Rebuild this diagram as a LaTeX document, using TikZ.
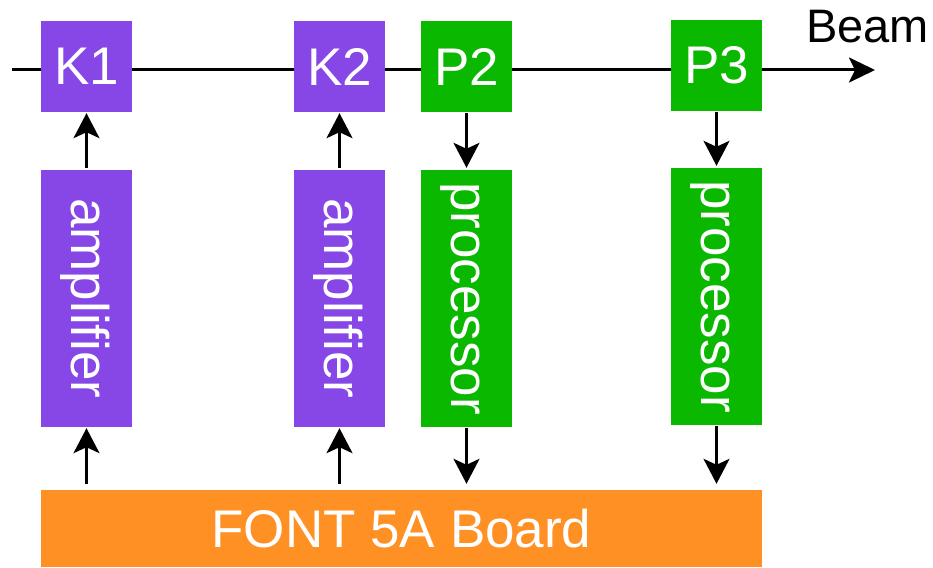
\documentclass[tikz,border=0pt]{standalone}
\usepackage{fontspec}
\setmainfont{Liberation Sans}
\usepackage{graphicx}
\usetikzlibrary{arrows.meta}

\definecolor{kickerpurple}{HTML}{8747E6}
\definecolor{bpmgreen}{HTML}{0AB800}
\definecolor{boardorange}{HTML}{FF9124}

% vertical label with a fixed baseline position inside its box
\newcommand{\vlabel}[1]{\rotatebox{-90}{\rule[-11pt]{0pt}{52pt}#1}}

\tikzset{
  block/.style={fill=#1, draw=none, inner sep=0pt, text=white,
    font=\fontsize{53}{60}\selectfont},
  squarebox/.style={block=#1, minimum width=91pt, minimum height=91pt},
  tallbox/.style={block=#1, minimum width=91pt, minimum height=257pt},
  sig/.style={line width=2.2pt, -{Stealth[length=25pt, width=26pt, inset=6pt]}},
  beamline/.style={line width=3pt, -{Stealth[length=26pt, width=25pt, inset=6pt]}},
}

\begin{document}
\begin{tikzpicture}[x=1pt, y=-1pt]
  \useasboundingbox (0,0) rectangle (933,567);

  % beam line, drawn first so the pickups sit on top of it
  \coordinate (beamstart) at (12,70);
  \coordinate (beamend) at (875,70);
  \draw[beamline] (beamstart) -- (beamend);
  \node[anchor=base west, inner sep=0pt, font=\fontsize{47}{54}\selectfont]
    (beamlabel) at (806,43) {Beam};

  % kickers and BPMs on the beam line
  \node[squarebox=kickerpurple] (k1) at (86.5,66.5) {K1};
  \node[squarebox=kickerpurple] (k2) at (339.5,66.5) {K2};
  \node[squarebox=bpmgreen] (p2) at (466.5,66.5) {P2};
  \node[squarebox=bpmgreen] (p3) at (716.5,65.5) {P3};

  % amplifiers and processors
  \node[tallbox=kickerpurple] (amp1) at (86.5,298.5) {\vlabel{amplifier}};
  \node[tallbox=kickerpurple] (amp2) at (339.5,298.5) {\vlabel{amplifier}};
  \node[tallbox=bpmgreen] (proc2) at (466.5,298.5) {\vlabel{processor}};
  \node[tallbox=bpmgreen] (proc3) at (716.5,296.5) {\vlabel{processor}};

  % feedback board
  \node[block=boardorange, minimum width=721pt, minimum height=77pt]
    (board) at (401.5,528.5) {FONT 5A Board};

  % signal flow
  \draw[sig, shorten <=2pt, shorten >=1pt] (amp1.north) -- (k1.south);
  \draw[sig, shorten <=2pt, shorten >=1pt] (amp2.north) -- (k2.south);
  \draw[sig, shorten <=1pt, shorten >=2pt] (p2.south) -- (proc2.north);
  \draw[sig, shorten <=1pt, shorten >=2pt] (p3.south) -- (proc3.north);

  \draw[sig, shorten <=6pt, shorten >=1pt] (board.north -| amp1) -- (amp1.south);
  \draw[sig, shorten <=6pt, shorten >=1pt] (board.north -| amp2) -- (amp2.south);
  \draw[sig, shorten <=1pt, shorten >=6pt] (proc2.south) -- (proc2.south |- board.north);
  \draw[sig, shorten <=1pt, shorten >=6pt] (proc3.south) -- (proc3.south |- board.north);
\end{tikzpicture}
\end{document}
